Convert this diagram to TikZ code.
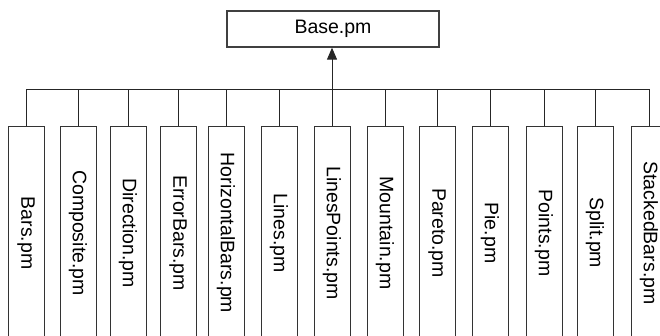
\documentclass[tikz,border=0pt]{standalone}
\usepackage{fontspec}
\setmainfont{Liberation Sans}
\usetikzlibrary{arrows.meta}

\begin{document}
\begin{tikzpicture}[x=1pt,y=-1pt,
    basebox/.style={draw=black!75,line width=1.3pt,minimum width=212pt,minimum height=36pt,inner sep=0pt},
    modbox/.style={draw=black!80,line width=1pt,minimum width=36pt,minimum height=214pt,inner sep=0pt},
    link/.style={draw=black!85,line width=1pt},
    font=\fontsize{19.5pt}{22pt}\selectfont]
    % Page frame
    \useasboundingbox (0,0) rectangle (660,335);
    \clip (0,0) rectangle (660,335);

    % Base class
    \node[basebox] (base) at (333,29) {Base.pm};

    % Level of the bus line
    \coordinate (bus) at (0,89);

    % Derived modules
    \foreach \name/\x [count=\i] in {Bars/26,Composite/78,Direction/128,ErrorBars/178,
        HorizontalBars/226,Lines/279,LinesPoints/332,Mountain/385,Pareto/437,
        Pie/490,Points/544,Split/595,StackedBars/649}
    {
        \node[modbox] (m\i) at (\x,233) {\rotatebox{-90}{\name.pm}};
        \draw[link] (m\i.north) -- (m\i.north |- bus);
    }

    % Bus line and arrow up to the base class
    \draw[link] (m1.north |- bus) -- (m13.north |- bus);
    \draw[link,-{Triangle[width=10pt,length=12pt]}] (m7.north |- bus) -- (base.south -| m7.north);
\end{tikzpicture}
\end{document}
